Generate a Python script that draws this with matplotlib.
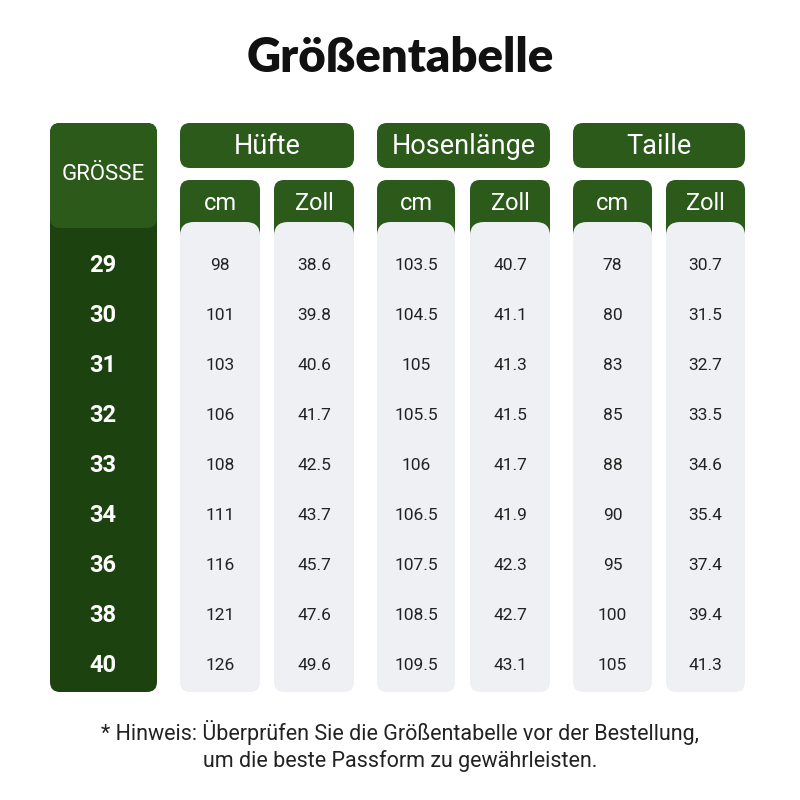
import matplotlib
matplotlib.use("Agg")
import matplotlib.pyplot as plt
from matplotlib.patches import FancyBboxPatch

plt.rcParams['font.family'] = ['Roboto', 'DejaVu Sans']

sizes = ["29", "30", "31", "32", "33", "34", "36", "38", "40"]
groups = ["Hüfte", "Hosenlänge", "Taille"]
units = ["cm", "Zoll"]
hip_cm = ["98", "101", "103", "106", "108", "111", "116", "121", "126"]
hip_in = ["38.6", "39.8", "40.6", "41.7", "42.5", "43.7", "45.7", "47.6", "49.6"]
len_cm = ["103.5", "104.5", "105", "105.5", "106", "106.5", "107.5", "108.5", "109.5"]
len_in = ["40.7", "41.1", "41.3", "41.5", "41.7", "41.9", "42.3", "42.7", "43.1"]
waist_cm = ["78", "80", "83", "85", "88", "90", "95", "100", "105"]
waist_in = ["30.7", "31.5", "32.7", "33.5", "34.6", "35.4", "37.4", "39.4", "41.3"]
columns = [hip_cm, hip_in, len_cm, len_in, waist_cm, waist_in]

GREEN = "#2b5a1b"
DARK = "#1c4210"
GRAY = "#eef0f3"

fig = plt.figure(figsize=(8, 8), dpi=100)
ax = fig.add_axes([0, 0, 1, 1])
ax.set_xlim(0, 800)
ax.set_ylim(800, 0)
ax.axis("off")


def rbox(x0, y0, x1, y1, color, r=10, z=1):
    ax.add_patch(FancyBboxPatch((x0 + r, y0 + r), x1 - x0 - 2 * r, y1 - y0 - 2 * r,
                                boxstyle=f"round,pad={r}", fc=color, ec="none", zorder=z))


ax.text(400, 58, "Größentabelle", ha="center", va="center", fontsize=34,
        fontweight="heavy", family=["Lato", "DejaVu Sans"], color="#111111")

# size column
rbox(50, 123, 157, 692, DARK)
rbox(50, 123, 157, 228, GREEN, z=2)
ax.text(103, 174, "GRÖSSE", ha="center", va="center", fontsize=16, color="white", zorder=3)

row_y0, row_step = 265, 50
for i, s in enumerate(sizes):
    ax.text(103, row_y0 + i * row_step, s, ha="center", va="center", fontsize=17,
            fontweight="bold", color="white", zorder=3)

col_x = [(180, 260), (274, 354), (377, 455), (470, 550), (573, 652), (666, 745)]
for g, name in enumerate(groups):
    xa, xb = col_x[2 * g][0], col_x[2 * g + 1][1]
    rbox(xa, 123, xb, 168, GREEN)
    ax.text((xa + xb) / 2, 146, name, ha="center", va="center", fontsize=19.5,
            color="white", zorder=3)

for c, vals in enumerate(columns):
    xa, xb = col_x[c]
    rbox(xa, 180, xb, 692, GRAY)
    rbox(xa, 180, xb, 240, GREEN, z=2)
    rbox(xa, 222, xb, 300, GRAY, r=14, z=2)
    ax.text((xa + xb) / 2, 204, units[c % 2], ha="center", va="center", fontsize=17,
            color="white", zorder=3)
    for i, v in enumerate(vals):
        ax.text((xa + xb) / 2, row_y0 + i * row_step, v, ha="center", va="center",
                fontsize=12.5, color="#222222", zorder=3)

ax.text(400, 746, "* Hinweis: Überprüfen Sie die Größentabelle vor der Bestellung,\n"
        "um die beste Passform zu gewährleisten.", ha="center", va="center",
        fontsize=15.5, color="#222222", linespacing=1.35)

fig.savefig("out.png", dpi=100)
